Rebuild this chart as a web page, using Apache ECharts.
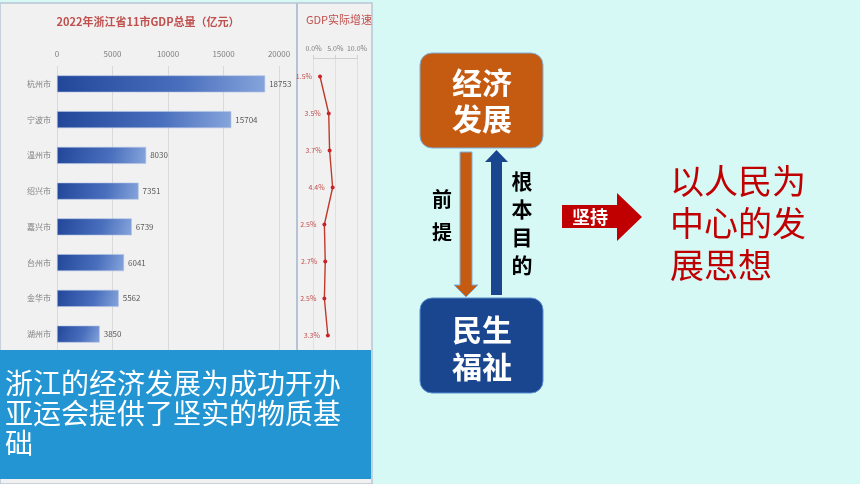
<!DOCTYPE html>
<html><head><meta charset="utf-8">
<script src="https://cdn.jsdelivr.net/npm/echarts@6/dist/echarts.min.js"></script>
<style>html,body{margin:0;padding:0;background:#d6f9f6;}#c{width:860px;height:484px;}</style>
</head><body><div id="c"></div>
<script>
const cities = ['杭州市','宁波市','温州市','绍兴市','嘉兴市','台州市','金华市','湖州市'];
const gdp = [18753,15704,8030,7351,6739,6041,5562,3850];
const growth = [1.5,3.5,3.7,4.4,2.5,2.7,2.5,3.3];
const gdpTicks = [0,5000,10000,15000,20000];
const growthTicks = [0,5,10];
const barTitle = '2022年浙江省11市GDP总量（亿元）';
const lineTitle = 'GDP实际增速';
const noteLines = ['浙江的经济发展为成功开办','亚运会提供了坚实的物质基','础'];
const topBox = ['经济','发展'];
const bottomBox = ['民生','福祉'];
const leftLabel = ['前','提'];
const rightLabel = ['根','本','目','的'];
const arrowText = '坚持';
const ideaLines = ['以人民为','中心的发','展思想'];

const FONT = '"Noto Sans CJK SC","Noto Sans",sans-serif';
const chart = echarts.init(document.getElementById('c'));

const graphics = [];
// chart panel
graphics.push({type:'rect',z:-10,shape:{x:0,y:3,width:372,height:481},style:{fill:'#f1f1f1',stroke:'#b9c6d3',lineWidth:1.5}});
graphics.push({type:'line',z:-9,shape:{x1:297,y1:3,x2:297,y2:350},style:{stroke:'#b4c4d6',lineWidth:2}});
// blue note box
graphics.push({type:'rect',z:100,shape:{x:0,y:350,width:371,height:129},style:{fill:'#2295d2'}});
noteLines.forEach((t,i)=>graphics.push({type:'text',z:101,style:{x:5,y:383+i*30,text:t,fill:'#ffffff',font:'28px '+FONT,textVerticalAlign:'middle',textAlign:'left'}}));
// top orange box
graphics.push({type:'rect',z:10,shape:{x:420,y:53,width:123,height:95,r:12},style:{fill:'#c55a11',stroke:'#7fb0dc',lineWidth:1}});
topBox.forEach((t,i)=>graphics.push({type:'text',z:11,style:{x:482,y:83+i*36,text:t,fill:'#ffffff',font:'bold 30px '+FONT,textAlign:'center',textVerticalAlign:'middle'}}));
// bottom blue box
graphics.push({type:'rect',z:10,shape:{x:420,y:298,width:123,height:95,r:12},style:{fill:'#1a468f',stroke:'#5b8fcf',lineWidth:1}});
bottomBox.forEach((t,i)=>graphics.push({type:'text',z:11,style:{x:482,y:330+i*37,text:t,fill:'#ffffff',font:'bold 30px '+FONT,textAlign:'center',textVerticalAlign:'middle'}}));
// down arrow (orange)
graphics.push({type:'polygon',z:10,shape:{points:[[460,152],[472,152],[472,285],[478,285],[466,297],[454,285],[460,285]]},style:{fill:'#c55a11',stroke:'#7fb0dc',lineWidth:1}});
// up arrow (blue)
graphics.push({type:'polygon',z:10,shape:{points:[[491,295],[502,295],[502,162],[508,162],[496.5,150],[485,162],[491,162]]},style:{fill:'#1a468f'}});
leftLabel.forEach((t,i)=>graphics.push({type:'text',z:11,style:{x:442,y:199+i*33,text:t,fill:'#000000',font:'bold 20px '+FONT,textAlign:'center',textVerticalAlign:'middle'}}));
rightLabel.forEach((t,i)=>graphics.push({type:'text',z:11,style:{x:522,y:181+i*28,text:t,fill:'#000000',font:'bold 21px '+FONT,textAlign:'center',textVerticalAlign:'middle'}}));
// red arrow
graphics.push({type:'polygon',z:10,shape:{points:[[562,205],[617,205],[617,193],[642,217],[617,241],[617,228],[562,228]]},style:{fill:'#c00000'}});
graphics.push({type:'text',z:11,style:{x:590,y:217,text:arrowText,fill:'#ffffff',font:'bold 18px '+FONT,textAlign:'center',textVerticalAlign:'middle'}});
ideaLines.forEach((t,i)=>graphics.push({type:'text',z:11,style:{x:670,y:181+i*42,text:t,fill:'#c00000',font:'34px '+FONT,textAlign:'left',textVerticalAlign:'middle'}}));

const barGrad = new echarts.graphic.LinearGradient(0,0,1,1,[{offset:0,color:'#22479a'},{offset:0.6,color:'#4a6fbd'},{offset:1,color:'#86a5dc'}]);

chart.setOption({
  backgroundColor:'#d6f9f6',
  animation:false,
  textStyle:{fontFamily:FONT},
  title:[
    {text:barTitle,left:143,top:11,textAlign:'center',textStyle:{color:'#c0504d',fontSize:11,fontWeight:'bold',fontFamily:FONT}},
    {text:lineTitle,left:334,top:9,textAlign:'center',textStyle:{color:'#c0504d',fontSize:11,fontWeight:'normal',fontFamily:FONT}}
  ],
  grid:[
    {left:57,top:66,width:222,height:286},
    {left:313.5,top:58,width:43.5,height:296}
  ],
  xAxis:[
    {gridIndex:0,type:'value',position:'top',min:gdpTicks[0],max:gdpTicks[gdpTicks.length-1],interval:gdpTicks[1]-gdpTicks[0],
     axisLine:{show:false},axisTick:{show:false},axisLabel:{fontSize:8,color:'#7f7f7f',margin:8,formatter:v=>String(v)},
     splitLine:{lineStyle:{color:'#d9d9d9',width:1}}},
    {gridIndex:1,type:'value',position:'top',min:growthTicks[0],max:growthTicks[growthTicks.length-1],interval:growthTicks[1]-growthTicks[0],
     axisLine:{show:true,lineStyle:{color:'#d0d0d0'}},axisTick:{show:true,length:3,lineStyle:{color:'#d0d0d0'}},
     axisLabel:{fontSize:7,color:'#7f7f7f',margin:6,formatter:v=>v.toFixed(1)+'%'},
     splitLine:{lineStyle:{color:'#e0e0e0',width:1}}}
  ],
  yAxis:[
    {gridIndex:0,type:'category',data:cities,inverse:true,axisLine:{show:false},axisTick:{show:false},
     axisLabel:{fontSize:8,color:'#7f7f7f',margin:6}},
    {gridIndex:1,type:'category',data:cities,inverse:true,axisLine:{show:false},axisTick:{show:false},axisLabel:{show:false}}
  ],
  series:[
    {type:'bar',xAxisIndex:0,yAxisIndex:0,data:gdp,barWidth:17,
     itemStyle:{color:barGrad,borderColor:'#b3c5e6',borderWidth:0.6},
     label:{show:true,position:'right',distance:4,fontSize:8,color:'#595959'}},
    {type:'line',xAxisIndex:1,yAxisIndex:1,data:growth,symbol:'circle',symbolSize:4,
     lineStyle:{color:'#c0392b',width:1.4},itemStyle:{color:'#c8222a'},
     label:{show:true,position:'left',distance:6,fontSize:7,color:'#c0504d',formatter:p=>p.value.toFixed(1)+'%'}}
  ],
  graphic:graphics
});
</script></body></html>
